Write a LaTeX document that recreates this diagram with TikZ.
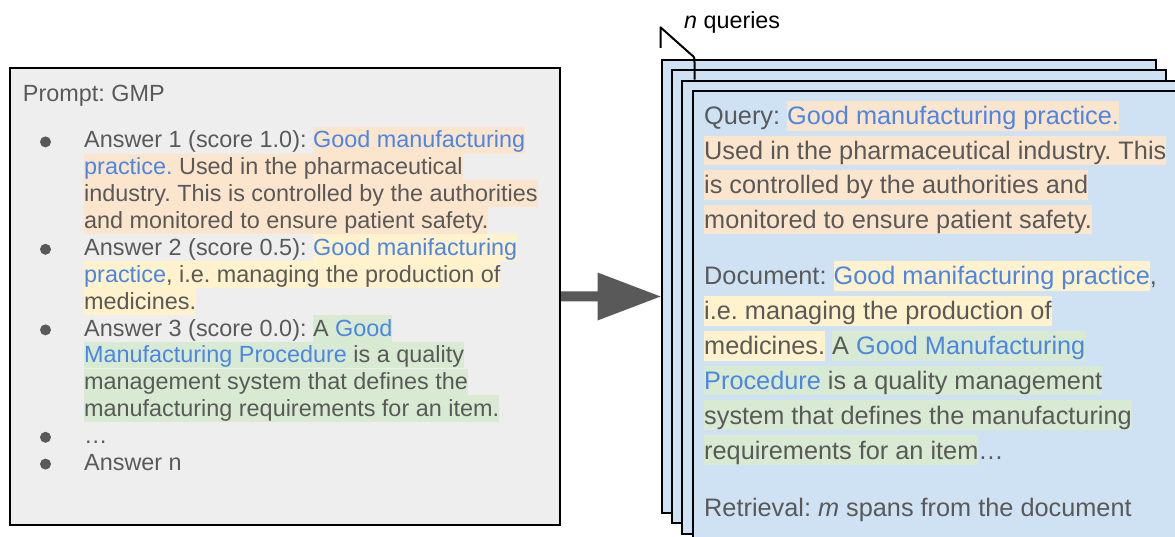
\documentclass[tikz,border=0pt]{standalone}
\usepackage{fontspec}
\setmainfont{Liberation Sans}
\usetikzlibrary{calc}

\definecolor{tgray}{HTML}{595959}
\definecolor{gblue}{HTML}{4A86E8}
\definecolor{hlorange}{HTML}{FCE5CD}
\definecolor{hlyellow}{HTML}{FFF2CC}
\definecolor{hlgreen}{HTML}{D9EAD3}
\definecolor{panelgray}{HTML}{EEEEEE}
\definecolor{cardblue}{HTML}{CFE2F3}

\frenchspacing
\setlength{\fboxsep}{0pt}
% line-height struts for the highlighted runs
\newcommand\lstrut{\rule[-5.65pt]{0pt}{26.85pt}}
\newcommand\rstrut{\rule[-6pt]{0pt}{29.8pt}}
\newcommand\blu[1]{\textcolor{gblue}{#1}}
\newcommand\hlLo[1]{\colorbox{hlorange}{\lstrut#1}}
\newcommand\hlLy[1]{\colorbox{hlyellow}{\lstrut#1}}
\newcommand\hlLg[1]{\colorbox{hlgreen}{\lstrut#1}}
\newcommand\hlRo[1]{\colorbox{hlorange}{\rstrut#1}}
\newcommand\hlRy[1]{\colorbox{hlyellow}{\rstrut#1}}
\newcommand\hlRg[1]{\colorbox{hlgreen}{\rstrut#1}}

\begin{document}
\begin{tikzpicture}[x=1pt, y=-1pt,
  ltext/.style={anchor=base west, inner sep=0pt, text=tgray,
    font=\fontsize{23.4}{26.85}\selectfont},
  rtext/.style={anchor=base west, inner sep=0pt, text=tgray,
    font=\fontsize{25.3}{34.8}\selectfont},
  bullet/.style={circle, fill=tgray, inner sep=0pt, minimum size=11pt},
  panel/.style={draw=black, line width=2pt, fill=panelgray, anchor=north west,
    inner sep=0pt, minimum width=550pt, minimum height=457pt},
  card/.style={draw=black, line width=2pt, fill=cardblue, anchor=north west,
    inner sep=0pt, minimum width=494pt, minimum height=453pt},
  bigarrow/.style={fill=tgray},
  brace/.style={draw=black, line width=2pt, line join=round}
]
\useasboundingbox (0,0) rectangle (1175,537);
\fill[white] (0,0) rectangle (1175,537);
\clip (0,0) rectangle (1175,537);

% ---------- prompt panel ----------
\node[panel] (prompt) at (9,67) {};
\node[ltext] (ptitle) at (22.7,101.7) {Prompt: GMP};

\node[bullet] (b1) at (45.5,141.9) {};
\node[bullet] (b2) at (45.5,249.3) {};
\node[bullet] (b3) at (45.5,329.9) {};
\node[bullet] (b4) at (45.5,437.3) {};
\node[bullet] (b5) at (45.5,464.1) {};

\node[ltext] (a1) at (84,148.0) {Answer 1 (score 1.0): \hlLo{\blu{Good manufacturing}}};
\node[ltext] (a2) at (84,174.9) {\hlLo{\blu{practice.} Used in the pharmaceutical}};
\node[ltext] (a3) at (84,201.7) {\hlLo{industry. This is controlled by the authorities}};
\node[ltext] (a4) at (84,228.6) {\hlLo{and monitored to ensure patient safety.}};
\node[ltext] (a5) at (84,255.4) {Answer 2 (score 0.5): \hlLy{\blu{Good manifacturing}}};
\node[ltext] (a6) at (84,282.3) {\hlLy{\blu{practice}, i.e. managing the production of}};
\node[ltext] (a7) at (84,309.1) {\hlLy{medicines.}};
\node[ltext] (a8) at (84,336.0) {Answer 3 (score 0.0): \hlLg{A \blu{Good}}};
\node[ltext] (a9) at (84,362.8) {\hlLg{\blu{Manufacturing Procedure} is a quality}};
\node[ltext] (a10) at (84,389.7) {\hlLg{management system that defines the}};
\node[ltext] (a11) at (84,416.5) {\hlLg{manufacturing requirements for an item.}};
\node[ltext] (a12) at (84,443.4) {…};
\node[ltext] (a13) at (84,470.2) {Answer n};

% ---------- stack of query cards ----------
\node[card] (q1) at (660.5,59) {};
\node[card] (q2) at (670.9,69.2) {};
\node[card] (q3) at (681.3,79.6) {};
\node[card] (q4) at (691.7,90) {};

% brace marking the n stacked queries
\coordinate (bt) at ($(q1.north west)+(0,-31.7)$);
\coordinate (bb) at ($(q1.north west)+(0,-11.2)$);
\coordinate (be) at ($(q3.north west)+(13.2,0)$);
\draw[brace] (bb) -- (bt) -- ($(bt)+(30,26.7)$)
  .. controls ($(be)+(0,-22.5)$) .. ($(be)+(0,-17)$) -- (be);
\node[anchor=base west, inner sep=0pt, font=\fontsize{23.3}{28}\selectfont]
  (nq) at (684,28.5) {\textit{n} queries};

\node[rtext] (r1) at (704,125.0) {Query: \hlRo{\blu{Good manufacturing practice.}}};
\node[rtext] (r2) at (704,159.5) {\hlRo{Used in the pharmaceutical industry. This}};
\node[rtext] (r3) at (704,194.0) {\hlRo{is controlled by the authorities and}};
\node[rtext] (r4) at (704,228.5) {\hlRo{monitored to ensure patient safety.}};
\node[rtext] (r5) at (704,285.0) {Document: \hlRy{\blu{Good manifacturing practice}},};
\node[rtext] (r6) at (704,319.8) {\hlRy{i.e. managing the production of}};
\node[rtext] (r7) at (704,354.6) {\hlRy{medicines.} \hlRg{A \blu{Good Manufacturing}}};
\node[rtext] (r8) at (704,389.4) {\hlRg{\blu{Procedure} is a quality management}};
\node[rtext] (r9) at (704,424.2) {\hlRg{system that defines the manufacturing}};
\node[rtext] (r10) at (704,459.0) {\hlRg{requirements for an item}…};
\node[rtext] (r11) at (704,516.5) {Retrieval: \textit{m} spans from the document};

% ---------- block arrow from the prompt panel to the cards ----------
\coordinate (tip) at (q1.west |- prompt.east);
\fill[bigarrow] ([yshift=5pt]prompt.east)
  -- ([xshift=-63pt,yshift=5pt]tip)
  -- ([xshift=-63pt,yshift=24pt]tip)
  -- (tip)
  -- ([xshift=-63pt,yshift=-24pt]tip)
  -- ([xshift=-63pt,yshift=-5pt]tip)
  -- ([yshift=-5pt]prompt.east) -- cycle;
\end{tikzpicture}
\end{document}
